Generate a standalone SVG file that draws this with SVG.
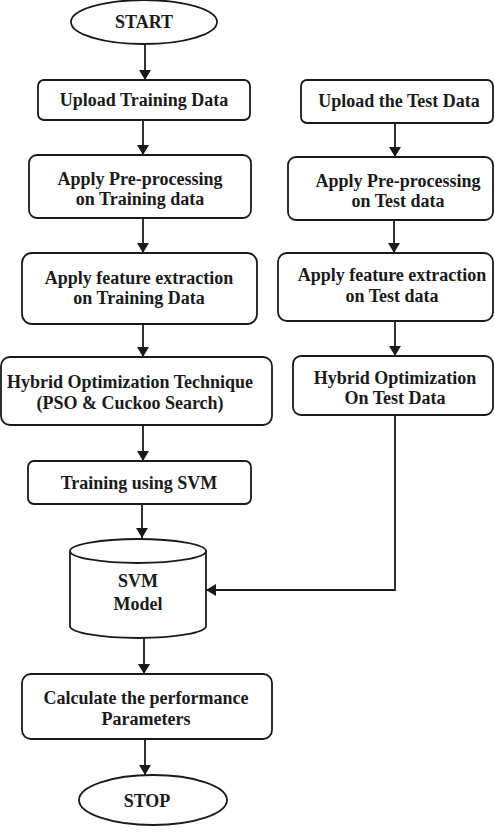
<svg xmlns="http://www.w3.org/2000/svg" width="495" height="839" viewBox="0 0 495 839">
<style>
.n{fill:#fff;stroke:#1a1a1a;stroke-width:1.8}
.t{font-family:"Liberation Serif","Times New Roman",serif;font-weight:bold;font-size:18px;fill:#1a1a1a;text-anchor:middle}
.c{fill:none;stroke:#1a1a1a;stroke-width:1.8}
</style>
<defs>
<marker id="ah" markerWidth="10" markerHeight="12" refX="10" refY="6" orient="auto" markerUnits="userSpaceOnUse">
<path d="M0,0 L10,6 L0,12 z" fill="#1a1a1a"/>
</marker>
</defs>
<rect width="495" height="839" fill="#fff"/>
<g id="connectors">
<line class="c" x1="145" y1="45" x2="145" y2="80" marker-end="url(#ah)"/>
<line class="c" x1="143" y1="120" x2="143" y2="155" marker-end="url(#ah)"/>
<line class="c" x1="143" y1="218" x2="143" y2="253" marker-end="url(#ah)"/>
<line class="c" x1="143" y1="324" x2="143" y2="357" marker-end="url(#ah)"/>
<line class="c" x1="143" y1="425" x2="143" y2="461" marker-end="url(#ah)"/>
<line class="c" x1="142" y1="504" x2="142" y2="538" marker-end="url(#ah)"/>
<line class="c" x1="144" y1="638" x2="144" y2="674" marker-end="url(#ah)"/>
<line class="c" x1="145" y1="739" x2="145" y2="775" marker-end="url(#ah)"/>
<line class="c" x1="395" y1="123" x2="395" y2="157" marker-end="url(#ah)"/>
<line class="c" x1="394" y1="220" x2="394" y2="253" marker-end="url(#ah)"/>
<line class="c" x1="395" y1="321" x2="395" y2="356" marker-end="url(#ah)"/>
<polyline class="c" points="395,415 395,590 206,590" marker-end="url(#ah)"/>
</g>
<g id="start">
<ellipse class="n" cx="144" cy="22" rx="73" ry="22"/>
<text class="t" x="144" y="28">START</text>
</g>
<g id="upload-train">
<rect class="n" x="38" y="80" width="212" height="40" rx="6"/>
<text class="t" x="144" y="106">Upload Training Data</text>
</g>
<g id="prep-train">
<rect class="n" x="29" y="155" width="222" height="63" rx="8"/>
<text class="t" x="140" y="185">Apply Pre-processing</text>
<text class="t" x="140" y="205">on Training data</text>
</g>
<g id="feat-train">
<rect class="n" x="22" y="253" width="235" height="71" rx="10"/>
<text class="t" x="139" y="284">Apply feature extraction</text>
<text class="t" x="139" y="304">on Training Data</text>
</g>
<g id="hybrid-train">
<rect class="n" x="1" y="357" width="271" height="68" rx="9"/>
<text class="t" x="130" y="388">Hybrid Optimization Technique</text>
<text class="t" x="130" y="409">(PSO &amp; Cuckoo Search)</text>
</g>
<g id="train-svm">
<rect class="n" x="28" y="461" width="223" height="43" rx="6"/>
<text class="t" x="139" y="489">Training using SVM</text>
</g>
<g id="svm-model">
<path class="n" d="M70,551 L70,626 A68,12 0 0 0 206,626 L206,551"/>
<ellipse class="n" cx="138" cy="551" rx="68" ry="12"/>
<text class="t" x="138" y="587">SVM</text>
<text class="t" x="138" y="610">Model</text>
</g>
<g id="calc">
<rect class="n" x="22" y="674" width="250" height="65" rx="9"/>
<text class="t" x="146" y="704">Calculate the performance</text>
<text class="t" x="146" y="725">Parameters</text>
</g>
<g id="stop">
<ellipse class="n" cx="153" cy="800" rx="74" ry="25"/>
<text class="t" x="147" y="807">STOP</text>
</g>
<g id="upload-test">
<rect class="n" x="301" y="80" width="192" height="43" rx="6"/>
<text class="t" x="399" y="107">Upload the Test Data</text>
</g>
<g id="prep-test">
<rect class="n" x="288" y="157" width="205" height="63" rx="8"/>
<text class="t" x="398" y="187">Apply Pre-processing</text>
<text class="t" x="398" y="207">on Test data</text>
</g>
<g id="feat-test">
<rect class="n" x="278" y="253" width="215" height="68" rx="9"/>
<text class="t" x="392" y="281">Apply feature extraction</text>
<text class="t" x="392" y="302">on Test data</text>
</g>
<g id="hybrid-test">
<rect class="n" x="293" y="356" width="200" height="59" rx="8"/>
<text class="t" x="395" y="384">Hybrid Optimization</text>
<text class="t" x="395" y="404">On Test Data</text>
</g>
</svg>
